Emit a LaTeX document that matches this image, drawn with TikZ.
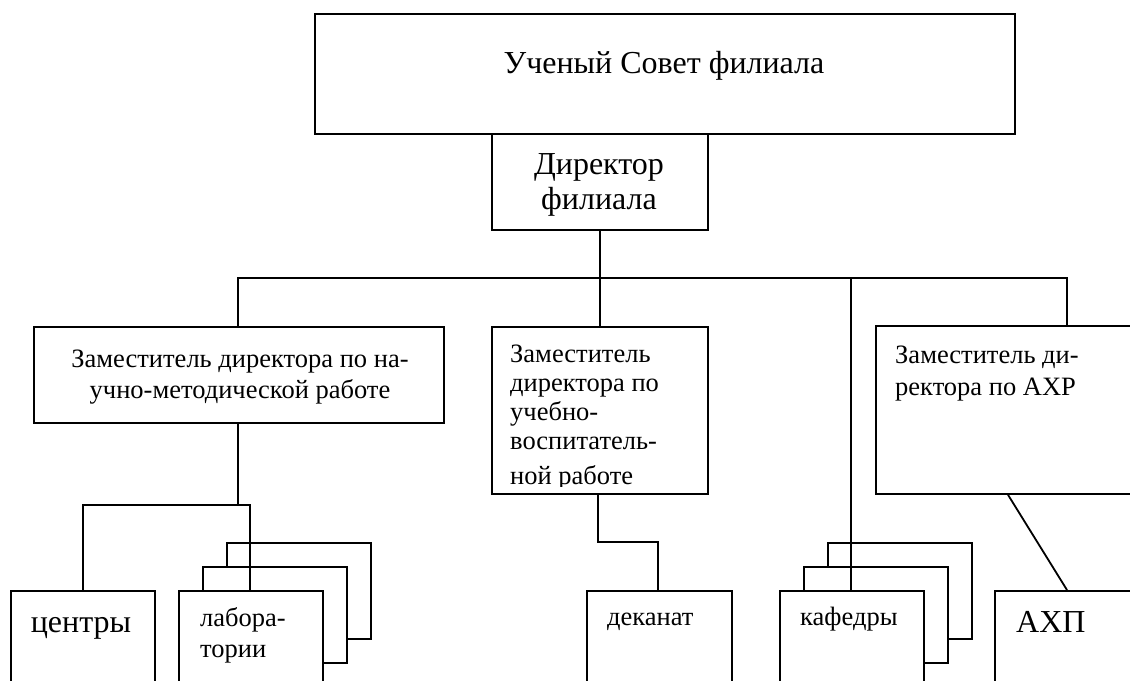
\documentclass[tikz,border=0pt]{standalone}
\usepackage{fontspec}
\setmainfont{Liberation Serif}
\begin{document}
\begin{tikzpicture}[x=1bp,y=-1bp,
  box/.style={draw, line width=1.8bp, fill=white, inner sep=0pt, anchor=north west},
  ln/.style={line width=1.8bp},
  big/.style={inner sep=0pt, font=\fontsize{32bp}{35bp}\selectfont},
  small/.style={inner sep=0pt, font=\fontsize{26.5bp}{29bp}\selectfont}]
\clip (0,0) rectangle (1130,681);
\fill[white] (0,0) rectangle (1130,681);
% top level
\node[box, minimum width=700bp, minimum height=120bp] (sovet) at (314,13) {};
\node[big, anchor=base] (tsovet) at (664,74) {Ученый Совет филиала};
\node[box, minimum width=216bp, minimum height=96bp] (dir) at (491,133) {};
\node[big, anchor=base, align=center] (tdir) at (599,210) {Директор\\филиала};
% deputies
\node[box, minimum width=410bp, minimum height=96bp] (zam1) at (33,326) {};
\node[small, anchor=base, align=center, font=\fontsize{26.5bp}{31bp}\selectfont] (tzam1) at (240,398) {Заместитель директора по на-\\учно-методической работе};
\node[box, minimum width=216bp, minimum height=167bp] (zam2) at (491,326) {};
\begin{scope}
\clip (491,326) rectangle (707,486);
\node[small, anchor=base west, align=left] (tzam2) at (510,484) {Заместитель\\директора по\\учебно-\\воспитатель-\\[6bp]ной работе};
\end{scope}
\node[box, minimum width=270bp, minimum height=168bp] (zam3) at (875,325) {};
\node[small, anchor=base west, align=left, font=\fontsize{26.5bp}{32bp}\selectfont] (tzam3) at (895,395) {Заместитель ди-\\ректора по АХР};
% bottom units
\node[box, minimum width=144bp, minimum height=96bp] (centr) at (10,590) {};
\node[big, anchor=base] (tcentr) at (81,632) {центры};
\node[box, minimum width=144bp, minimum height=96bp] (lab3) at (226,542) {};
\node[box, minimum width=144bp, minimum height=96bp] (lab2) at (202,566) {};
\node[box, minimum width=144bp, minimum height=96bp] (lab1) at (178,590) {};
\node[small, anchor=base west, align=left, font=\fontsize{26.5bp}{31bp}\selectfont] (tlab) at (200,657) {лабора-\\тории};
\node[box, minimum width=145bp, minimum height=96bp] (dekan) at (586,590) {};
\node[small, anchor=base west] (tdekan) at (607,625) {деканат};
\node[box, minimum width=144bp, minimum height=96bp] (kaf3) at (827,542) {};
\node[box, minimum width=144bp, minimum height=96bp] (kaf2) at (803,566) {};
\node[box, minimum width=144bp, minimum height=96bp] (kaf1) at (779,590) {};
\node[small, anchor=base west] (tkaf) at (800,625) {кафедры};
\node[box, minimum width=150bp, minimum height=96bp] (ahp) at (994,590) {};
\node[big, anchor=base west] (tahp) at (1016,632) {АХП};
% connectors
\coordinate (busL) at (238,278);
\coordinate (busR) at (1067,278);
\draw[ln] (dir.south) -- (zam2.north);
\draw[ln] (zam1.north -| busL) |- (busR) -- (busR |- zam3.north);
\draw[ln] (kaf1.north -| 851,0) -- (851,278);
\coordinate (sub) at (238,505);
\draw[ln] (zam1.south -| sub) -- (sub);
\draw[ln] (centr.north -| 83,0) |- (sub) -| (lab1.north -| 250,0);
\coordinate (dk) at (598,542);
\draw[ln] (zam2.south -| dk) -- (dk) -| (dekan.north -| 658,0);
\draw[ln] (zam3.south -| 1008,0) -- (ahp.north -| 1067,0);
\end{tikzpicture}
\end{document}
